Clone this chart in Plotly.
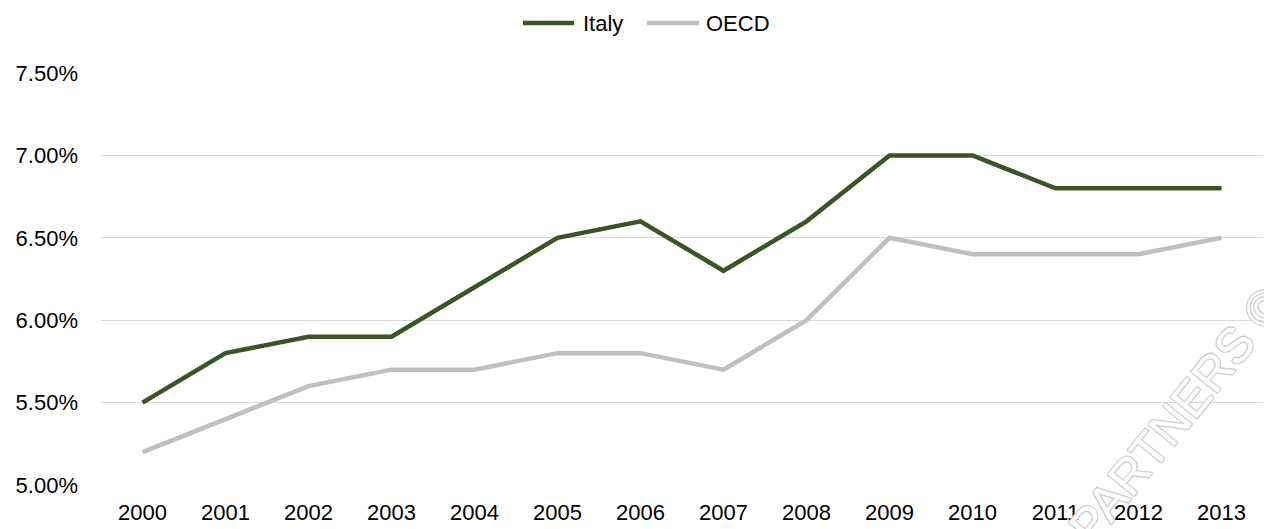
import plotly.graph_objects as go

years = ["2000", "2001", "2002", "2003", "2004", "2005", "2006",
         "2007", "2008", "2009", "2010", "2011", "2012", "2013"]
italy = [0.055, 0.058, 0.059, 0.059, 0.062, 0.065, 0.066,
         0.063, 0.066, 0.070, 0.070, 0.068, 0.068, 0.068]
oecd = [0.052, 0.054, 0.056, 0.057, 0.057, 0.058, 0.058,
        0.057, 0.060, 0.065, 0.064, 0.064, 0.064, 0.065]
y_ticks = [0.050, 0.055, 0.060, 0.065, 0.070, 0.075]

series = [("Italy", italy, "#375623"), ("OECD", oecd, "#bfbfbf")]

W, H = 1264, 529
ML, MR, MT, MB = 101, 1, 73, 44
PW, PH = W - ML - MR, H - MT - MB
FONT = 22


def px_x(px):
    return (px - ML) / PW


def px_y(py):
    return (H - MB - py) / PH


fig = go.Figure()
for name, vals, color in series:
    fig.add_trace(go.Scatter(x=years, y=vals, name=name, mode="lines",
                             line=dict(color=color, width=4.5),
                             showlegend=False))

# legend drawn as line keys with labels, centred above the plot
legend_items = [(523, 574, 581), (647, 699, 704)]
for (name, _, color), (x0, x1, xt) in zip(series, legend_items):
    fig.add_shape(type="line", xref="paper", yref="paper",
                  x0=px_x(x0), x1=px_x(x1), y0=px_y(23), y1=px_y(23),
                  line=dict(color=color, width=4.5))
    fig.add_annotation(text=name, xref="paper", yref="paper",
                       x=px_x(xt), y=px_y(23), xanchor="left", yanchor="middle",
                       showarrow=False, font=dict(size=FONT, color="#000000"))

# outlined watermark text
outline = "#cfcfcf"
shadow = ", ".join(f"{dx}px {dy}px 0 {outline}" for dx, dy in
                   [(1, 0), (-1, 0), (0, 1), (0, -1), (1, 1), (-1, -1), (1, -1), (-1, 1)])
fig.add_annotation(text="& PARTNERS ©", xref="paper", yref="paper",
                   x=px_x(1163), y=px_y(433), xanchor="center", yanchor="middle",
                   showarrow=False, textangle=-51,
                   font=dict(family="Liberation Sans, Arial", size=49,
                             color="white", shadow=shadow))

fig.update_layout(
    width=W, height=H,
    margin=dict(l=ML, r=MR, t=MT, b=MB),
    paper_bgcolor="white", plot_bgcolor="white",
    font=dict(family="Liberation Sans, Arial", size=FONT, color="#000000"),
    showlegend=False,
    xaxis=dict(type="category", range=[-0.5, 13.5], showgrid=False,
               showline=False, ticks="", zeroline=False,
               tickfont=dict(size=FONT), automargin=False,
               ticklabelstandoff=12),
    yaxis=dict(range=[0.050, 0.075], tickvals=y_ticks, tickformat=".2%",
               showgrid=True, gridcolor="#d9d9d9", gridwidth=1.3,
               zeroline=False, showline=False, ticks="", ticklen=0,
               tickfont=dict(size=FONT), automargin=False,
               ticklabelstandoff=22),
)

fig.write_html("out.html")
